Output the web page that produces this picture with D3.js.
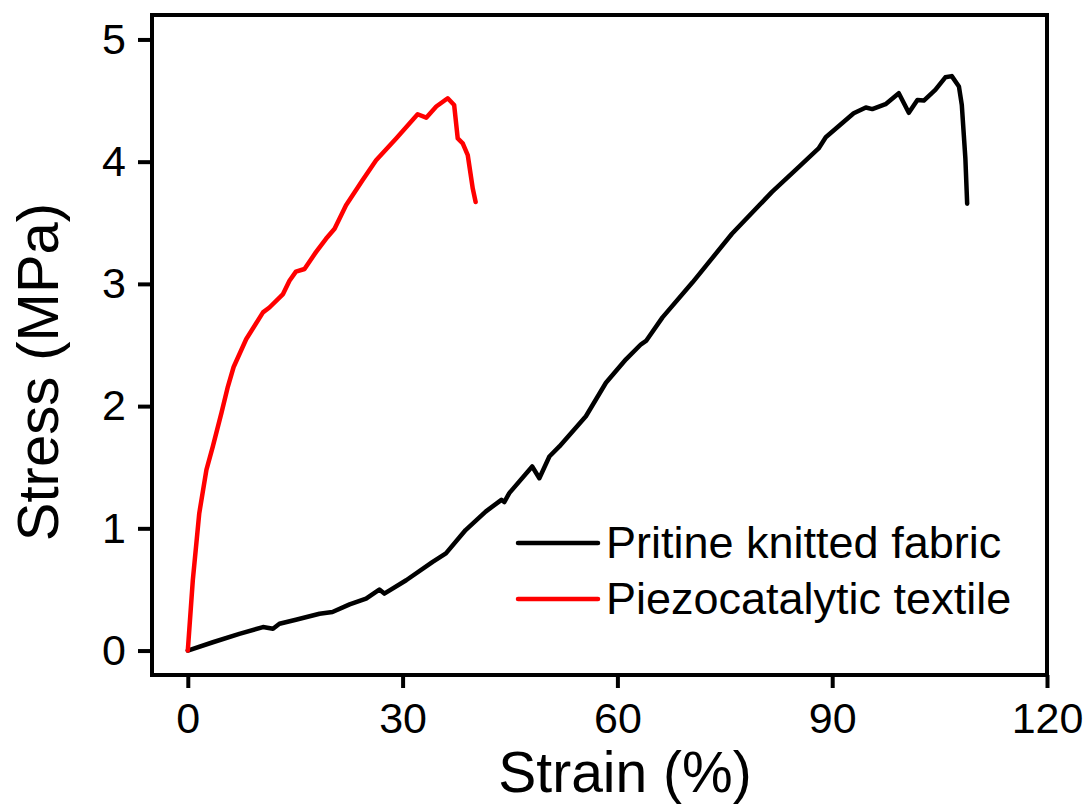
<!DOCTYPE html>
<html>
<head>
<meta charset="utf-8">
<script src="https://cdn.jsdelivr.net/npm/d3@7"></script>
<style>
  html, body { margin: 0; padding: 0; background: #fff; }
  svg { display: block; font-family: "Liberation Sans", Arial, sans-serif; }
</style>
</head>
<body>
<svg id="chart" width="1089" height="812"></svg>
<script>
// ---- data ----
const xTicks = [0, 30, 60, 90, 120];
const yTicks = [0, 1, 2, 3, 4, 5];
const seriesNames = ["Pritine knitted fabric", "Piezocatalytic textile"];
const seriesColors = ["#000000", "#ff0000"];

const pristineStrain = [0, 3.5, 7.2, 10.5, 11.9, 12.8, 15.1, 18.4, 20.2, 22.6, 24.9, 26.75, 27.45, 30.5, 34.2, 36.05, 38.8, 41.6, 43.8, 44.2, 44.9, 48.1, 49.1, 50.5, 51.9, 55.6, 58.4, 61.2, 63.3, 64.0, 66.3, 70.5, 76.0, 81.6, 85.35, 88.1, 89.1, 93.0, 94.7, 95.6, 97.45, 99.3, 100.7, 101.9, 102.8, 104.4, 105.8, 106.7, 107.7, 108.1, 108.6, 108.85];
const pristineStress = [0, 0.068, 0.137, 0.192, 0.178, 0.219, 0.252, 0.301, 0.315, 0.378, 0.425, 0.499, 0.466, 0.575, 0.726, 0.795, 0.986, 1.137, 1.233, 1.215, 1.288, 1.506, 1.41, 1.588, 1.67, 1.917, 2.191, 2.383, 2.506, 2.533, 2.726, 3.013, 3.41, 3.753, 3.958, 4.108, 4.20, 4.396, 4.443, 4.43, 4.47, 4.56, 4.40, 4.505, 4.50, 4.587, 4.69, 4.70, 4.615, 4.464, 4.026, 3.656];

const piezoStrain = [0, 0.7, 1.6, 2.6, 3.5, 4.7, 5.6, 6.4, 8.15, 10.5, 11.4, 13.3, 14.2, 15.1, 16.3, 17.9, 19.3, 20.5, 22.1, 24.4, 26.3, 29.1, 32.1, 33.3, 34.7, 36.3, 37.2, 37.7, 38.4, 39.1, 39.8, 40.2];
const piezoStress = [0, 0.575, 1.123, 1.479, 1.67, 1.945, 2.16, 2.32, 2.547, 2.767, 2.807, 2.917, 3.026, 3.10, 3.122, 3.26, 3.369, 3.451, 3.643, 3.848, 4.012, 4.19, 4.388, 4.36, 4.451, 4.519, 4.464, 4.19, 4.15, 4.053, 3.78, 3.67];

// ---- layout ----
const svg = d3.select("#chart");
const M = { left: 152, top: 15, right: 1089 - 1047, bottom: 812 - 675 };
const W = 1089 - M.left - M.right;
const H = 812 - M.top - M.bottom;

const x = d3.scaleLinear().domain([-5, 120]).range([0, W]);
const y = d3.scaleLinear().domain([-0.2, 5.2]).range([H, 0]);

const g = svg.append("g").attr("transform", `translate(${M.left},${M.top})`);

// axes
const xAxis = g.append("g").attr("transform", `translate(0,${H})`)
  .call(d3.axisBottom(x).tickValues(xTicks).tickSize(13).tickPadding(14).tickFormat(d3.format("d")));
const yAxis = g.append("g")
  .call(d3.axisLeft(y).tickValues(yTicks).tickSize(14).tickPadding(12).tickFormat(d3.format("d")));

[xAxis, yAxis].forEach(a => {
  a.select(".domain").remove();
  a.selectAll(".tick line").attr("stroke", "#000").attr("stroke-width", 4);
  a.selectAll(".tick text").attr("fill", "#000").style("font-size", "43px")
    .style("font-family", '"Liberation Sans", Arial, sans-serif');
});

// lines
const line = d3.line().x(d => x(d[0])).y(d => y(d[1])).curve(d3.curveLinear);
const series = [
  d3.zip(pristineStrain, pristineStress),
  d3.zip(piezoStrain, piezoStress)
];
series.forEach((s, i) => {
  g.append("path").datum(s)
    .attr("d", line)
    .attr("fill", "none")
    .attr("stroke", seriesColors[i])
    .attr("stroke-width", 4.5)
    .attr("stroke-linejoin", "round")
    .attr("stroke-linecap", "round");
});

// frame
g.append("rect").attr("x", 0).attr("y", 0).attr("width", W).attr("height", H)
  .attr("fill", "none").attr("stroke", "#000").attr("stroke-width", 4);

// legend
const legend = svg.append("g");
seriesNames.forEach((name, i) => {
  const ly = 543 + i * 56;
  legend.append("line").attr("x1", 518).attr("x2", 598).attr("y1", ly).attr("y2", ly)
    .attr("stroke", seriesColors[i]).attr("stroke-width", 4.5).attr("stroke-linecap", "round");
  legend.append("text").attr("x", 606).attr("y", ly + 15)
    .style("font-size", "45px").attr("fill", "#000").text(name);
});

// axis titles
svg.append("text").attr("x", 625).attr("y", 792).attr("text-anchor", "middle")
  .style("font-size", "57px").attr("fill", "#000").text("Strain (%)");
svg.append("text").attr("transform", "translate(58,372) rotate(-90)").attr("text-anchor", "middle")
  .style("font-size", "58px").attr("fill", "#000").text("Stress (MPa)");
</script>
</body>
</html>
